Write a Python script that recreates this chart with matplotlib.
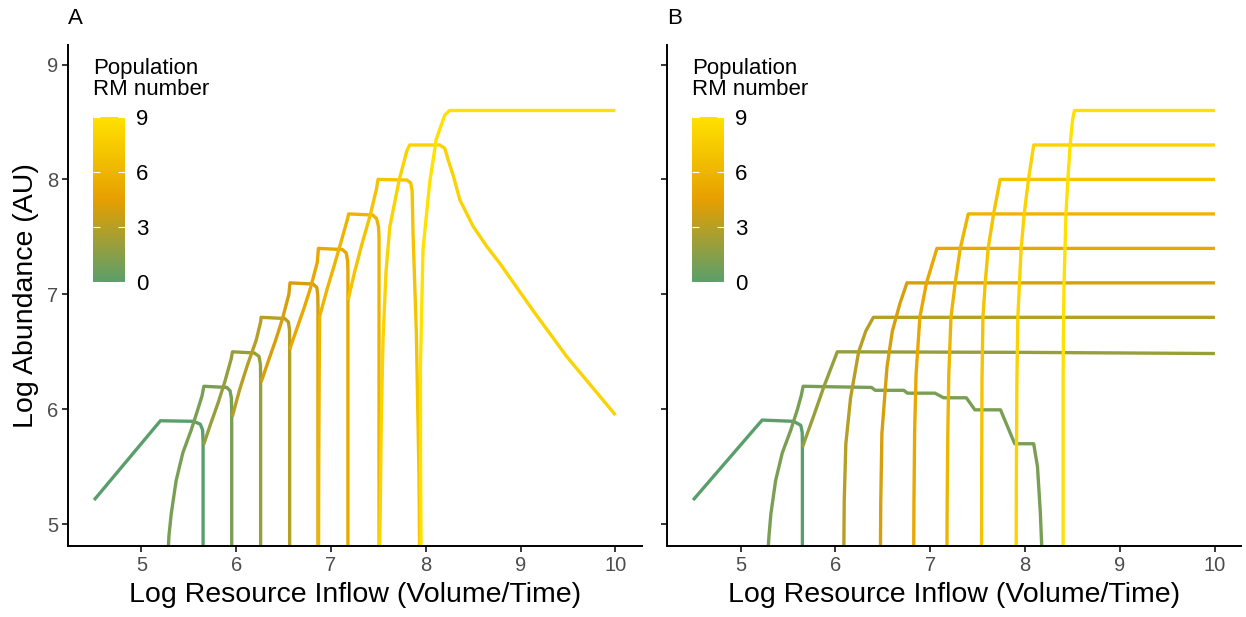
import numpy as np
import matplotlib
matplotlib.use("Agg")
import matplotlib.pyplot as plt
from matplotlib.colors import LinearSegmentedColormap, Normalize
from matplotlib.cm import ScalarMappable

plt.rcParams['font.family'] = ['Liberation Sans', 'DejaVu Sans']

# === Panel A: abundance vs inflow, one curve per RM number ===
a_x = {
    0: [4.5, 5.2, 5.55, 5.62, 5.645, 5.65, 5.65],
    1: [5.278, 5.29, 5.314, 5.366, 5.436, 5.525, 5.595, 5.64, 5.658, 5.90, 5.935, 5.948, 5.952, 5.952],
    2: [5.655, 5.72, 5.806, 5.876, 5.947, 5.96, 6.19, 6.24, 6.255, 6.257, 6.257],
    3: [5.958, 6.035, 6.12, 6.21, 6.257, 6.262, 6.51, 6.55, 6.562, 6.563, 6.563],
    4: [6.264, 6.33, 6.415, 6.485, 6.555, 6.567, 6.81, 6.85, 6.86, 6.862, 6.862],
    5: [6.563, 6.63, 6.715, 6.785, 6.855, 6.867, 7.12, 7.16, 7.175, 7.178, 7.178],
    6: [6.868, 6.87, 6.875, 6.88, 6.96, 7.04, 7.11, 7.175, 7.185, 7.44, 7.48, 7.50, 7.506, 7.506],
    7: [7.18, 7.25, 7.33, 7.41, 7.48, 7.495, 7.80, 7.84, 7.855, 7.865, 7.90, 7.928, 7.935],
    8: [7.51, 7.52, 7.53, 7.548, 7.58, 7.62, 7.72, 7.80, 7.83, 8.147, 8.20, 8.235, 8.29, 8.36,
        8.50, 8.64, 8.78, 9.13, 9.485, 10.0],
    9: [7.95, 7.945, 7.943, 7.97, 8.04, 8.11, 8.20, 8.25, 10.0],
}
a_y = {
    0: [5.21, 5.90, 5.895, 5.87, 5.82, 5.72, 4.70],
    1: [4.70, 4.90, 5.09, 5.38, 5.62, 5.82, 6.0, 6.12, 6.20, 6.19, 6.16, 6.10, 6.0, 4.70],
    2: [5.69, 5.85, 6.05, 6.23, 6.44, 6.50, 6.49, 6.46, 6.39, 6.3, 4.70],
    3: [5.935, 6.17, 6.39, 6.60, 6.76, 6.80, 6.79, 6.76, 6.69, 6.6, 4.70],
    4: [6.24, 6.40, 6.60, 6.78, 7.00, 7.10, 7.09, 7.06, 6.99, 6.9, 4.70],
    5: [6.52, 6.68, 6.88, 7.06, 7.28, 7.40, 7.39, 7.36, 7.29, 7.2, 4.70],
    6: [4.70, 5.50, 6.30, 6.81, 7.05, 7.27, 7.47, 7.66, 7.70, 7.69, 7.66, 7.59, 7.5, 4.70],
    7: [6.95, 7.20, 7.45, 7.68, 7.92, 8.00, 7.995, 7.97, 7.90, 7.53, 6.66, 5.41, 4.70],
    8: [4.70, 5.20, 5.90, 6.60, 7.20, 7.59, 8.00, 8.25, 8.30, 8.30, 8.27, 8.17, 8.03, 7.82,
        7.59, 7.42, 7.27, 6.86, 6.46, 5.95],
    9: [4.70, 5.50, 6.37, 7.39, 7.97, 8.35, 8.56, 8.60, 8.60],
}

# === Panel B ===
b_x = {
    0: [4.5, 5.228, 5.56, 5.635, 5.65, 5.652, 5.652],
    1: [5.285, 5.30, 5.32, 5.37, 5.44, 5.53, 5.60, 5.64, 5.66, 6.0, 6.38, 6.42, 6.72, 6.76,
        7.05, 7.14, 7.38, 7.47, 7.74, 7.89, 8.09, 8.13, 8.16, 8.18],
    2: [5.652, 5.77, 5.88, 6.02, 8.0, 10.0],
    3: [6.088, 6.093, 6.11, 6.16, 6.245, 6.32, 6.40, 10.0],
    4: [6.474, 6.478, 6.49, 6.544, 6.60, 6.68, 6.754, 10.0],
    5: [6.825, 6.828, 6.835, 6.85, 6.89, 6.96, 7.07, 10.0],
    6: [7.175, 7.178, 7.185, 7.195, 7.218, 7.263, 7.316, 7.40, 10.0],
    7: [7.54, 7.542, 7.545, 7.555, 7.579, 7.61, 7.667, 7.737, 10.0],
    8: [7.905, 7.908, 7.913, 7.923, 7.94, 7.958, 7.99, 8.035, 8.09, 10.0],
    9: [8.40, 8.40, 8.405, 8.41, 8.42, 8.43, 8.45, 8.474, 8.50, 8.52, 10.0],
}
b_y = {
    0: [5.21, 5.906, 5.895, 5.86, 5.80, 5.72, 4.70],
    1: [4.70, 4.90, 5.09, 5.38, 5.62, 5.82, 6.0, 6.12, 6.20, 6.195, 6.19, 6.165, 6.165, 6.14,
        6.14, 6.10, 6.10, 5.995, 5.995, 5.70, 5.70, 5.50, 5.10, 4.70],
    2: [5.67, 5.94, 6.20, 6.50, 6.495, 6.485],
    3: [4.70, 5.20, 5.70, 6.10, 6.50, 6.68, 6.80, 6.80],
    4: [4.70, 5.20, 5.79, 6.37, 6.68, 6.92, 7.10, 7.10],
    5: [4.70, 5.20, 5.80, 6.30, 6.80, 7.10, 7.40, 7.40],
    6: [4.70, 5.20, 5.80, 6.30, 6.80, 7.10, 7.40, 7.70, 7.70],
    7: [4.70, 5.50, 6.25, 6.80, 7.10, 7.40, 7.70, 8.00, 8.00],
    8: [4.70, 5.50, 6.25, 6.80, 7.10, 7.40, 7.70, 8.00, 8.30, 8.30],
    9: [4.70, 6.25, 6.80, 7.10, 7.40, 7.70, 8.00, 8.30, 8.52, 8.60, 8.60],
}

rm_levels = list(range(10))
cbar_ticks = [0, 3, 6, 9]
x_ticks = [5, 6, 7, 8, 9, 10]
y_ticks = [5, 6, 7, 8, 9]

cmap = LinearSegmentedColormap.from_list("rm", ["#5a9f6b", "#e69f00", "#ffe100"])
norm = Normalize(vmin=0, vmax=9)

W, H = 1246, 617
fig = plt.figure(figsize=(W / 100, H / 100), dpi=100)

panels = [
    ("A", a_x, a_y, 68, 641.5, 68),
    ("B", b_x, b_y, 667, 1241, 667),
]

for label, xs, ys, left_px, right_px, lab_px in panels:
    ax = fig.add_axes([left_px / W, (H - 546) / H, (right_px - left_px) / W, (546 - 45) / H])
    for k in rm_levels:
        ax.plot(xs[k], ys[k], color=cmap(norm(k)), lw=2.4, solid_capstyle='butt',
                solid_joinstyle='round')
    ax.set_xlim(4.225, 10.275)
    ax.set_ylim(4.81, 9.17)
    ax.set_xticks(x_ticks)
    ax.set_yticks(y_ticks)
    for s in ['top', 'right']:
        ax.spines[s].set_visible(False)
    for s in ['left', 'bottom']:
        ax.spines[s].set_linewidth(1.4)
    ax.tick_params(length=4, width=1.1, labelsize=14.5, labelcolor='#4d4d4d', pad=3)
    ax.set_xlabel("Log Resource Inflow (Volume/Time)", fontsize=20.5, labelpad=5)
    if label == "A":
        ax.set_ylabel("Log Abundance (AU)", fontsize=20.5, labelpad=6)
    else:
        ax.tick_params(axis='y', labelleft=False)
    fig.text(lab_px / W, 1 - 8 / H, label, fontsize=16, va='top', ha='left')

    # colour bar legend
    cax = fig.add_axes([(left_px + 25) / W, (H - 282) / H, 32 / W, 165 / H])
    cb = fig.colorbar(ScalarMappable(norm=norm, cmap=cmap), cax=cax)
    cb.outline.set_visible(False)
    cb.set_ticks(cbar_ticks)
    cax.tick_params(which='both', direction='in', length=5, width=0.8, colors='white',
                    labelcolor='black', labelsize=16, left=True, right=True, pad=8)
    fig.text((left_px + 25) / W, 1 - 58 / H, "Population\nRM number", fontsize=16,
             va='top', ha='left', linespacing=1.0)

fig.savefig("out.png", dpi=100)
